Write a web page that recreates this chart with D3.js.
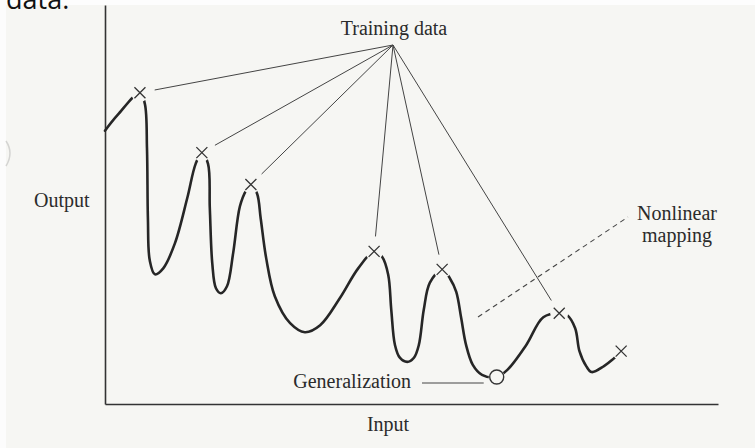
<!DOCTYPE html>
<html>
<head>
<meta charset="utf-8">
<script src="https://cdn.jsdelivr.net/npm/d3@7"></script>
<style>
  html, body { margin: 0; padding: 0; background: #f6f6f3; }
  svg { display: block; }
  .label { font-family: "Liberation Serif", "Times New Roman", serif; font-size: 20px; fill: #2b2b2b; }
  .caption { font-family: "Open Sans", "Liberation Sans", sans-serif; font-size: 27px; fill: #111; }
</style>
</head>
<body>
<div id="chart"></div>
<script>
// Training samples (input, output) marked with crosses
const trainInput  = [5.7, 15.8, 23.8, 43.9, 55.0, 74.1, 84.2];
const trainOutput = [78, 63, 55, 38.25, 33.75, 22.75, 13.25];
// crosses that get a leader line to the "Training data" label
const trainLinked = [true, true, true, true, true, true, false];

// Generalization (test) point
const genInput = 63.9;
const genOutput = 6.75;

// Fitted nonlinear mapping
const curveInput  = [0, 2.1, 5.7, 6.5, 6.85, 7.0, 7.3, 8.15, 9.5, 11.4, 13.4, 14.8, 15.8,
  16.8, 17.1, 17.5, 18.1, 18.9, 19.9, 20.9, 22.0, 23.0, 23.8,
  24.8, 25.4, 26.3, 27.7, 30.2, 32.6, 35.1, 38.3, 41.3, 43.9,
  45.2, 46.2, 46.7, 47.3, 48.1, 49.3, 50.4, 51.2, 52.0, 53.0, 55.0,
  56.3, 57.3, 58.1, 58.9, 60.0, 61.5, 63.9,
  65.6, 68.7, 71.5, 74.1,
  75.4, 76.7, 77.4, 78.5, 79.4, 81.4, 82.7, 84.2];
const curveOutput = [68.5, 72.5, 78, 75.25, 64, 46.5, 36, 32.5, 34, 40.25, 51.5, 60.25, 63,
  60.25, 49, 35.25, 29, 27.75, 29.5, 37.75, 49.5, 53.5, 55,
  52.75, 46.5, 36.5, 27, 20.25, 18, 19.75, 26.5, 34, 38.25,
  36.9, 32.4, 23.6, 14.8, 11.6, 10.55, 11.6, 14.8, 23.6, 30.4, 33.75,
  31.4, 28.1, 21.6, 14.8, 9.8, 7.3, 6.75,
  8.5, 14.75, 21.75, 22.75,
  22.25, 19, 13.25, 9.5, 8, 9.5, 11, 13.25];

const width = 755, height = 448;
const apex = {x: 393, y: 45};

const x = d3.scaleLinear().domain([0, 100]).range([105, 718]);
const y = d3.scaleLinear().domain([0, 100]).range([404, 5]);

const svg = d3.select('#chart').append('svg')
  .attr('width', width)
  .attr('height', height);

// Paper background, white scanner margins on the top and left
svg.append('rect').attr('width', width).attr('height', height).attr('fill', '#f6f6f3');
svg.append('rect').attr('width', width).attr('height', 5).attr('fill', '#fdfdfd');
svg.append('rect').attr('width', 6).attr('height', height).attr('fill', '#fcfcfc');
svg.append('path')
  .attr('d', 'M6,141 Q14,153 6,166')
  .attr('fill', 'none').attr('stroke', '#d4d4d2').attr('stroke-width', 1.5);

// Cut-off caption from the page above
svg.append('text').attr('class', 'caption').attr('x', 6).attr('y', 9).text('data.');

// Axes without ticks
const axisStyle = g => g.call(a => a.select('.domain').attr('stroke', '#333').attr('stroke-width', 1.6));
svg.append('g')
  .attr('transform', `translate(${x(0)},0)`)
  .call(d3.axisLeft(y).ticks(0).tickSizeOuter(0))
  .call(axisStyle);
svg.append('g')
  .attr('transform', `translate(0,${y(0)})`)
  .call(d3.axisBottom(x).ticks(0).tickSizeOuter(0))
  .call(axisStyle);

// Mask so the curve stops short of each marker
const mask = svg.append('defs').append('mask').attr('id', 'gaps');
mask.append('rect').attr('width', width).attr('height', height).attr('fill', '#fff');
trainInput.forEach((d, i) => {
  mask.append('circle').attr('cx', x(d)).attr('cy', y(trainOutput[i])).attr('r', 9).attr('fill', '#000');
});
mask.append('circle').attr('cx', x(genInput)).attr('cy', y(genOutput)).attr('r', 8).attr('fill', '#000');

const line = d3.line()
  .x(i => x(curveInput[i]))
  .y(i => y(curveOutput[i]))
  .curve(d3.curveCatmullRom.alpha(0.5));

svg.append('path')
  .attr('d', line(d3.range(curveInput.length)))
  .attr('fill', 'none')
  .attr('stroke', '#262626')
  .attr('stroke-width', 2.6)
  .attr('stroke-linecap', 'round')
  .attr('mask', 'url(#gaps)');

// Leader lines from the label to the crosses
const gap = 15;
trainInput.forEach((d, i) => {
  if (!trainLinked[i]) return;
  const tx = x(d), ty = y(trainOutput[i]);
  const len = Math.hypot(tx - apex.x, ty - apex.y);
  svg.append('line')
    .attr('x1', apex.x).attr('y1', apex.y)
    .attr('x2', apex.x + (tx - apex.x) * (len - gap) / len)
    .attr('y2', apex.y + (ty - apex.y) * (len - gap) / len)
    .attr('stroke', '#444').attr('stroke-width', 1);
});

// Crosses
const s = 5.5;
svg.selectAll('.cross')
  .data(trainInput)
  .enter().append('path')
  .attr('class', 'cross')
  .attr('d', (d, i) => {
    const cx = x(d), cy = y(trainOutput[i]);
    return `M${cx - s},${cy - s}L${cx + s},${cy + s}M${cx - s},${cy + s}L${cx + s},${cy - s}`;
  })
  .attr('stroke', '#333').attr('stroke-width', 1.3).attr('fill', 'none');

// Generalization point
svg.append('circle')
  .attr('cx', x(genInput)).attr('cy', y(genOutput)).attr('r', 7)
  .attr('fill', 'none').attr('stroke', '#333').attr('stroke-width', 1.4);
svg.append('line')
  .attr('x1', 422).attr('x2', x(genInput) - 13)
  .attr('y1', 383).attr('y2', 383)
  .attr('stroke', '#444').attr('stroke-width', 1);

// Dashed pointer for the nonlinear mapping
svg.append('line')
  .attr('x1', 478).attr('y1', 317).attr('x2', 628).attr('y2', 217)
  .attr('stroke', '#444').attr('stroke-width', 1.1).attr('stroke-dasharray', '5,4');

// Labels
svg.append('text').attr('class', 'label').attr('x', 394).attr('y', 35).attr('text-anchor', 'middle').text('Training data');
svg.append('text').attr('class', 'label').attr('x', 34).attr('y', 207).text('Output');
svg.append('text').attr('class', 'label').attr('x', 677).attr('y', 220).attr('text-anchor', 'middle').text('Nonlinear');
svg.append('text').attr('class', 'label').attr('x', 677).attr('y', 242).attr('text-anchor', 'middle').text('mapping');
svg.append('text').attr('class', 'label').attr('x', 411).attr('y', 388).attr('text-anchor', 'end').text('Generalization');
svg.append('text').attr('class', 'label').attr('x', 388).attr('y', 431).attr('text-anchor', 'middle').text('Input');
</script>
</body>
</html>
